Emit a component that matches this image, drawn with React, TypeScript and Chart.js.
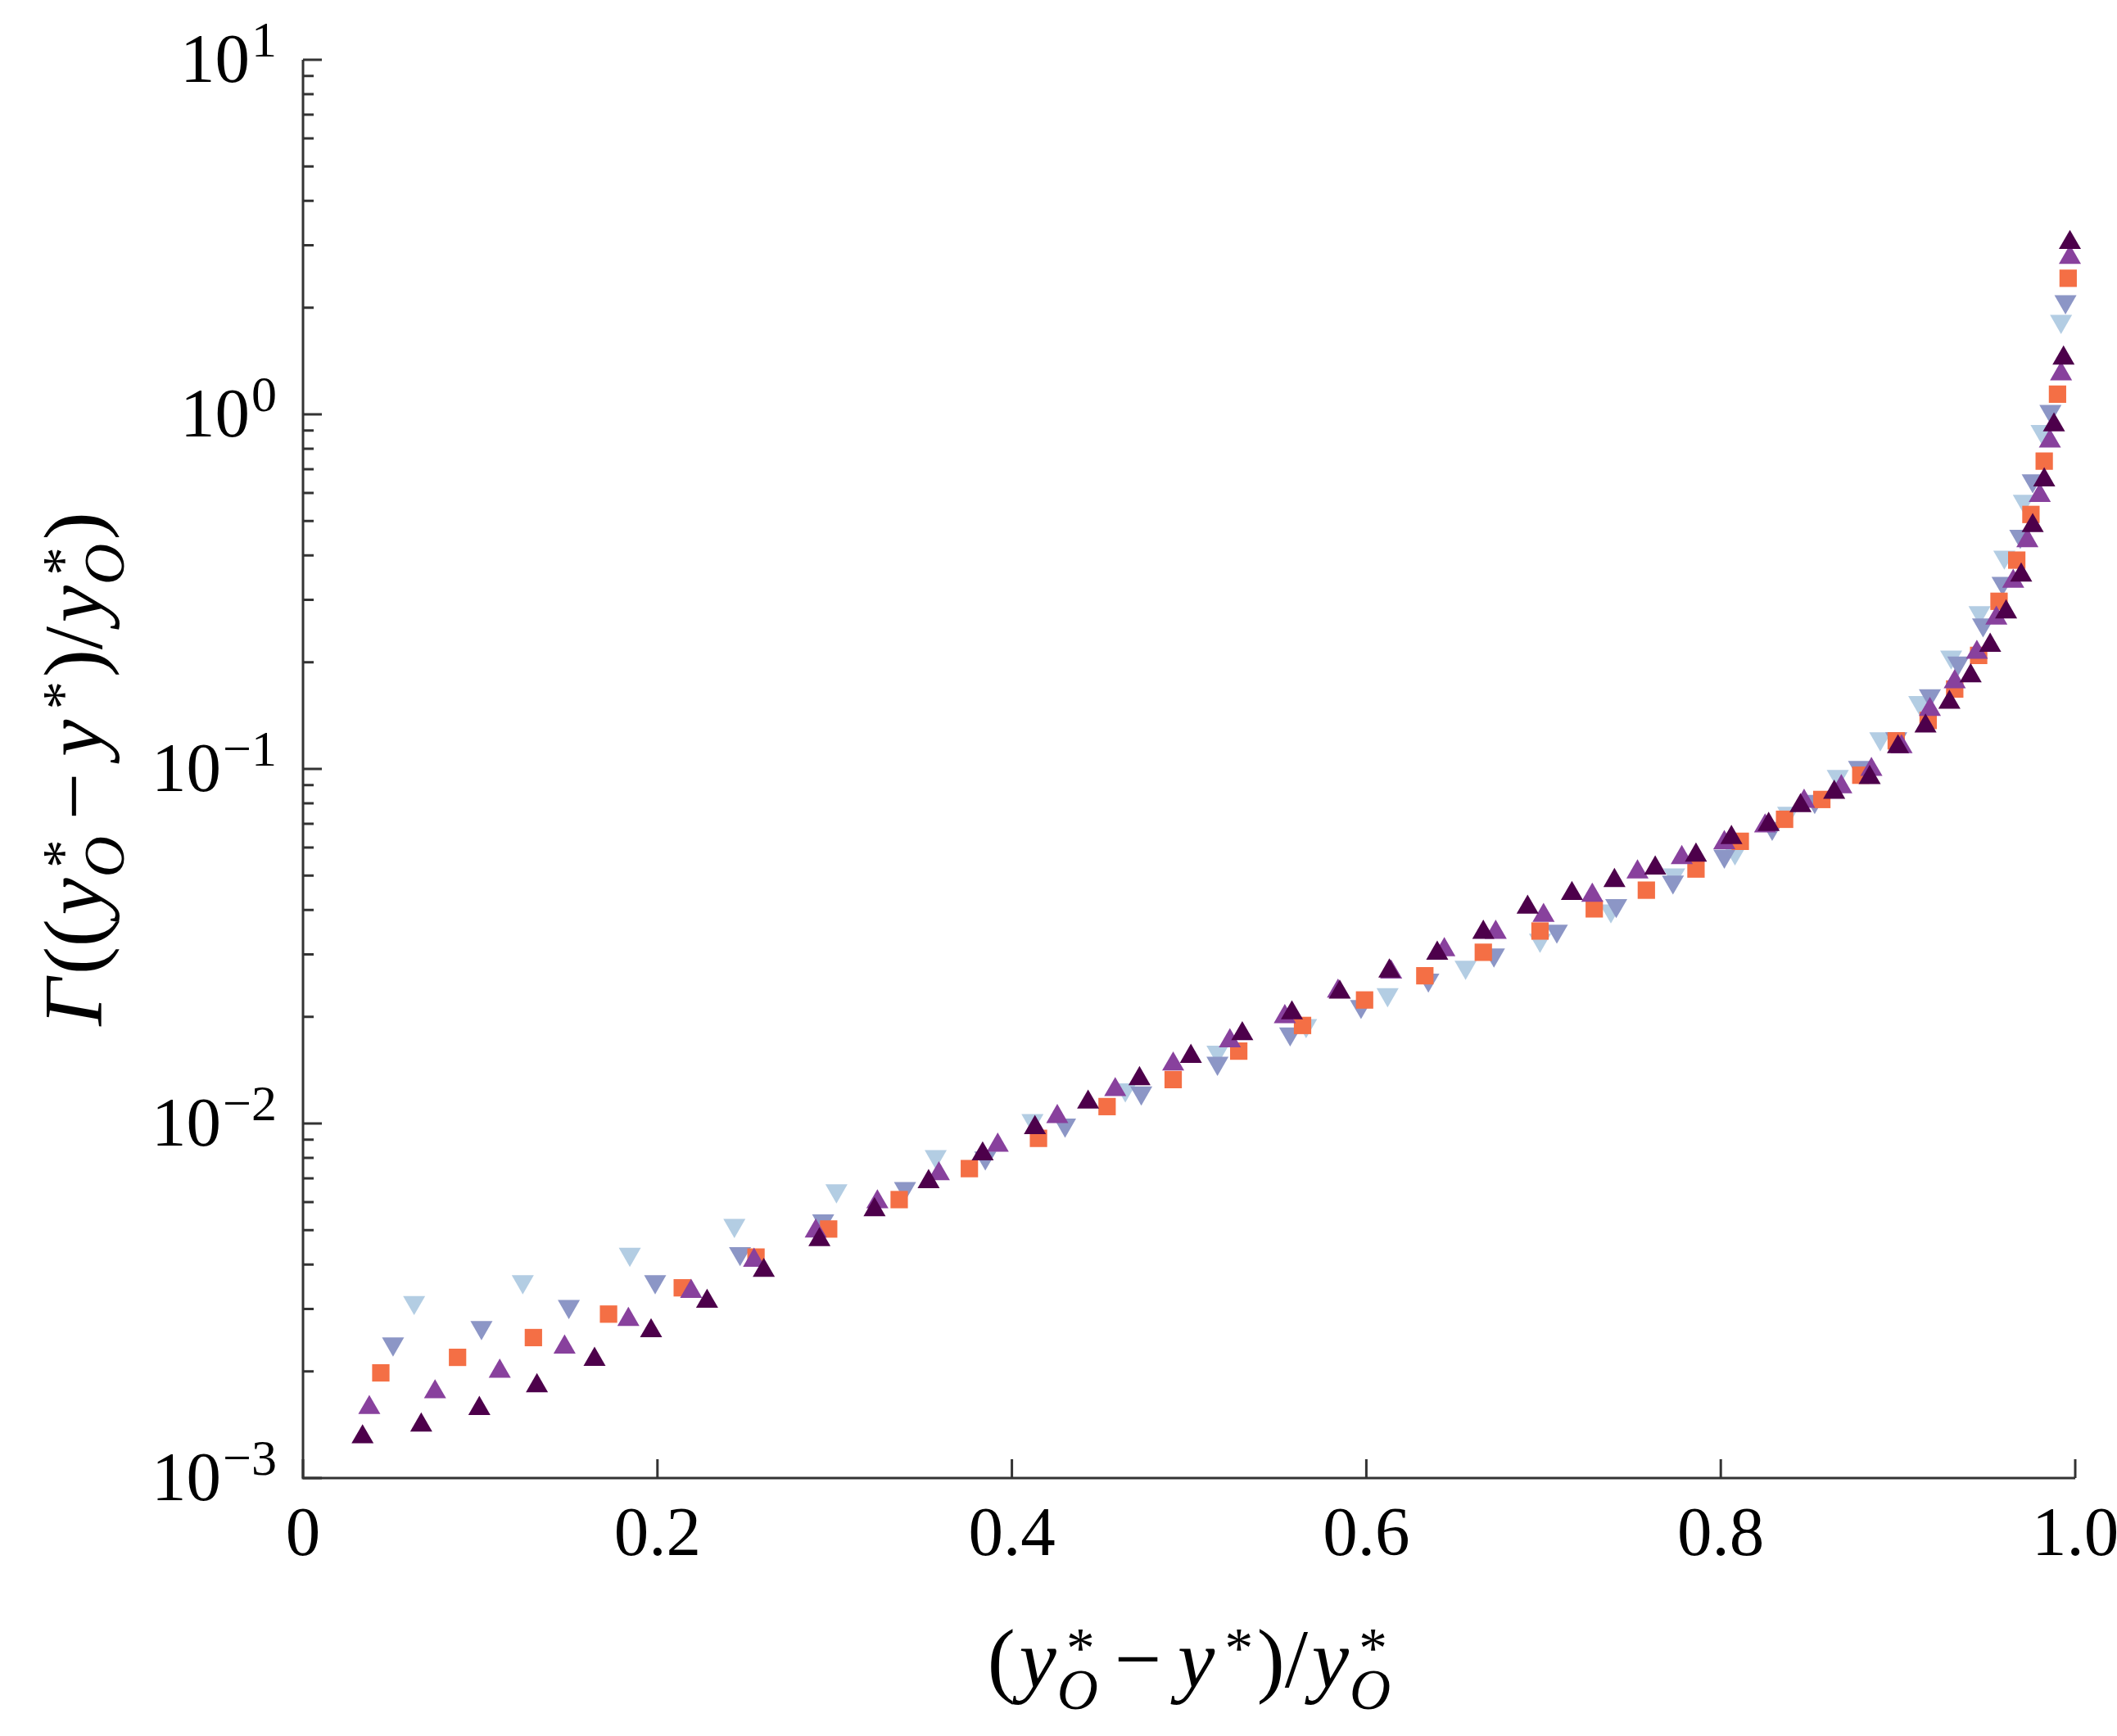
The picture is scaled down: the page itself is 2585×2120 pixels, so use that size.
import { useEffect, useRef } from "react";
import { Chart, registerables } from "chart.js";

Chart.register(...registerables);

// series: x = (y*_O - y*)/y*_O, y = Gamma
const xLightBlue = [0.0627, 0.124, 0.1844, 0.2434, 0.301, 0.357, 0.4116, 0.464, 0.516, 0.566, 0.612, 0.656, 0.698, 0.738, 0.7737, 0.808, 0.838, 0.866, 0.89, 0.912, 0.93, 0.946, 0.96, 0.971, 0.981, 0.992];
const yLightBlue = [0.00313, 0.00358, 0.00428, 0.00516, 0.00646, 0.00807, 0.0102, 0.01245, 0.0159, 0.0189, 0.0231, 0.0276, 0.0329, 0.0398, 0.0503, 0.058, 0.075, 0.0953, 0.1217, 0.154, 0.207, 0.276, 0.396, 0.569, 0.895, 1.83];

const xMidBlue = [0.0508, 0.1007, 0.15, 0.1987, 0.2466, 0.2935, 0.3397, 0.385, 0.43, 0.473, 0.516, 0.557, 0.597, 0.635, 0.672, 0.7075, 0.741, 0.773, 0.802, 0.829, 0.853, 0.878, 0.899, 0.918, 0.934, 0.948, 0.959, 0.969, 0.976, 0.986, 0.9945];
const yMidBlue = [0.00239, 0.00266, 0.00305, 0.00358, 0.0043, 0.00532, 0.00656, 0.008, 0.0099, 0.0122, 0.0148, 0.0179, 0.0214, 0.0254, 0.0299, 0.0349, 0.0412, 0.048, 0.0568, 0.068, 0.081, 0.101, 0.1217, 0.161, 0.199, 0.255, 0.334, 0.453, 0.65, 1.02, 2.08];

const xOrange = [0.0439, 0.0872, 0.13, 0.1724, 0.214, 0.2556, 0.2966, 0.3364, 0.376, 0.415, 0.4537, 0.491, 0.528, 0.564, 0.599, 0.633, 0.666, 0.698, 0.7286, 0.758, 0.786, 0.811, 0.836, 0.857, 0.879, 0.899, 0.917, 0.932, 0.9455, 0.957, 0.967, 0.975, 0.9825, 0.99, 0.996];
const yOrange = [0.00198, 0.00219, 0.00249, 0.0029, 0.00344, 0.0042, 0.00504, 0.0061, 0.00746, 0.00908, 0.01116, 0.0133, 0.016, 0.0189, 0.0223, 0.0261, 0.0304, 0.0349, 0.0403, 0.0455, 0.0522, 0.0625, 0.0721, 0.082, 0.096, 0.12, 0.137, 0.168, 0.209, 0.297, 0.388, 0.522, 0.738, 1.14, 2.42];

const xPurple = [0.0374, 0.0745, 0.111, 0.1476, 0.1836, 0.219, 0.2545, 0.2893, 0.3241, 0.3588, 0.392, 0.4256, 0.4583, 0.491, 0.523, 0.554, 0.584, 0.614, 0.644, 0.673, 0.7, 0.7275, 0.753, 0.778, 0.802, 0.825, 0.847, 0.868, 0.885, 0.902, 0.918, 0.932, 0.9445, 0.9555, 0.965, 0.973, 0.98, 0.9857, 0.992, 0.997];
const yPurple = [0.00158, 0.00175, 0.002, 0.00234, 0.0028, 0.00336, 0.00411, 0.00497, 0.00601, 0.00721, 0.00868, 0.01045, 0.01245, 0.0147, 0.0171, 0.02, 0.0236, 0.0267, 0.0309, 0.0346, 0.0386, 0.044, 0.0512, 0.0562, 0.0619, 0.069, 0.081, 0.089, 0.0996, 0.1154, 0.147, 0.176, 0.213, 0.266, 0.338, 0.44, 0.59, 0.84, 1.3, 2.77];

const xDark = [0.0336, 0.0667, 0.0995, 0.132, 0.1645, 0.1964, 0.228, 0.26, 0.2914, 0.3225, 0.353, 0.3835, 0.413, 0.443, 0.472, 0.501, 0.53, 0.558, 0.585, 0.613, 0.64, 0.666, 0.691, 0.716, 0.74, 0.763, 0.786, 0.806, 0.827, 0.845, 0.864, 0.884, 0.9, 0.9155, 0.929, 0.941, 0.952, 0.961, 0.9695, 0.976, 0.9825, 0.988, 0.9934, 0.997];
const yDark = [0.001306, 0.00141, 0.00157, 0.00182, 0.00216, 0.0026, 0.00315, 0.00385, 0.0047, 0.00571, 0.00685, 0.0082, 0.00973, 0.01148, 0.01337, 0.01545, 0.0179, 0.0205, 0.02344, 0.0269, 0.0302, 0.0346, 0.0407, 0.0445, 0.0484, 0.0525, 0.0571, 0.064, 0.0697, 0.0787, 0.0859, 0.0945, 0.1154, 0.132, 0.154, 0.183, 0.223, 0.277, 0.352, 0.485, 0.653, 0.933, 1.44, 3.05];

const xTicks = [0, 0.2, 0.4, 0.6, 0.8, 1.0];
const xTickLabels = ["0", "0.2", "0.4", "0.6", "0.8", "1.0"];
const yDecades = [-3, -2, -1, 0, 1];
const yExponents = ["\u22123", "\u22122", "\u22121", "0", "1"];

const SERIF = '"Liberation Serif", "Times New Roman", serif';
const AXIS_COLOR = "#333333";

type Piece = { t: string; it?: boolean; sup?: string; sub?: string; pad?: number };

// y*_O helper
const yStarO: Piece = { t: "y", it: true, sup: "*", sub: "O" };
const xTitle: Piece[] = [
  { t: "(" },
  yStarO,
  { t: "\u2212", pad: 0.15 },
  { t: "y", it: true, sup: "*" },
  { t: ")/" },
  yStarO,
];
const yTitle: Piece[] = [
  { t: "\u0393", it: true },
  { t: "((" },
  yStarO,
  { t: "\u2212", pad: 0.15 },
  { t: "y", it: true, sup: "*" },
  { t: ")/" },
  yStarO,
  { t: ")" },
];

const font = (size: number, italic = false) => `${italic ? "italic " : ""}${size}px ${SERIF}`;

function drawMath(ctx: CanvasRenderingContext2D, pieces: Piece[], size: number, cx: number, baseline: number) {
  const script = size * 0.68;
  const gap = 0.045 * size;
  const items: { t: string; f: string; x: number; y: number }[] = [];
  let x = 0;
  pieces.forEach((p, i) => {
    if (i > 0) x += gap;
    x += (p.pad ?? 0) * size;
    ctx.font = font(size, !!p.it);
    const w = ctx.measureText(p.t).width;
    items.push({ t: p.t, f: ctx.font, x, y: 0 });
    let end = x + w;
    if (p.sup) {
      ctx.font = font(script);
      const sx = x + w + 0.12 * size;
      items.push({ t: p.sup, f: ctx.font, x: sx, y: -0.24 * size });
      end = Math.max(end, sx + ctx.measureText(p.sup).width);
    }
    if (p.sub) {
      ctx.font = font(script, true);
      const bx = x + w + 0.01 * size;
      items.push({ t: p.sub, f: ctx.font, x: bx, y: 0.26 * size });
      end = Math.max(end, bx + ctx.measureText(p.sub).width);
    }
    x = end + (p.pad ?? 0) * size;
  });
  const x0 = cx - x / 2;
  ctx.textAlign = "left";
  ctx.textBaseline = "alphabetic";
  for (const it of items) {
    ctx.font = it.f;
    ctx.fillText(it.t, x0 + it.x, baseline + it.y);
  }
}

const axesPlugin = {
  id: "paperAxes",
  afterDatasetsDraw(chart: any) {
    const { ctx, chartArea, scales } = chart;
    const { left, right, top, bottom } = chartArea;
    const xs = scales.x;
    const ys = scales.y;
    ctx.save();
    ctx.strokeStyle = AXIS_COLOR;
    ctx.lineWidth = 3;
    ctx.beginPath();
    ctx.moveTo(left, top);
    ctx.lineTo(left, bottom);
    ctx.lineTo(right, bottom);
    ctx.stroke();

    // inward ticks
    ctx.beginPath();
    xTicks.forEach((v) => {
      const px = xs.getPixelForValue(v);
      ctx.moveTo(px, bottom);
      ctx.lineTo(px, bottom - 23);
    });
    yDecades.forEach((e) => {
      const py = ys.getPixelForValue(Math.pow(10, e));
      ctx.moveTo(left, py);
      ctx.lineTo(left + 23, py);
      if (e < 1) {
        for (let k = 2; k <= 9; k++) {
          const pm = ys.getPixelForValue(k * Math.pow(10, e));
          ctx.moveTo(left, pm);
          ctx.lineTo(left + 13, pm);
        }
      }
    });
    ctx.stroke();

    ctx.fillStyle = "#000";
    ctx.textBaseline = "alphabetic";
    ctx.font = font(85);
    ctx.textAlign = "center";
    xTicks.forEach((v, i) => {
      ctx.fillText(xTickLabels[i], xs.getPixelForValue(v), bottom + 94);
    });

    yDecades.forEach((e, i) => {
      const py = ys.getPixelForValue(Math.pow(10, e));
      const rightEdge = left - 32;
      ctx.font = font(62);
      ctx.textAlign = "right";
      const ew = ctx.measureText(yExponents[i]).width;
      ctx.fillText(yExponents[i], rightEdge, py - 4);
      ctx.font = font(85);
      ctx.fillText("10", rightEdge - ew - 2, py + 27);
    });

    // axis titles
    drawMath(ctx, xTitle, 102, (left + right) / 2, 2060);
    ctx.translate(124, (top + bottom) / 2);
    ctx.rotate(-Math.PI / 2);
    drawMath(ctx, yTitle, 102, 0, 0);
    ctx.restore();
  },
};

const toPoints = (xs: number[], ys: number[]) => xs.map((x, i) => ({ x, y: ys[i] }));

const App = () => {
  const chartRef = useRef<HTMLCanvasElement>(null);

  useEffect(() => {
    const ctx = chartRef.current!.getContext("2d")!;
    const tri = 15.6;
    const chart = new Chart(ctx, {
      type: "scatter",
      data: {
        // first dataset is painted last (on top)
        datasets: [
          { data: toPoints(xDark, yDark), pointStyle: "triangle", pointRadius: tri, backgroundColor: "#4d004b", borderWidth: 0 },
          { data: toPoints(xPurple, yPurple), pointStyle: "triangle", pointRadius: tri, backgroundColor: "#88419d", borderWidth: 0 },
          { data: toPoints(xOrange, yOrange), pointStyle: "rect", pointRadius: 15, backgroundColor: "#f46f45", borderWidth: 0 },
          { data: toPoints(xMidBlue, yMidBlue), pointStyle: "triangle", rotation: 180, pointRadius: tri, backgroundColor: "#8c96c6", borderWidth: 0 },
          { data: toPoints(xLightBlue, yLightBlue), pointStyle: "triangle", rotation: 180, pointRadius: tri, backgroundColor: "#b3cde3", borderWidth: 0 },
        ].map((d) => ({ ...d, clip: false as any, pointHoverRadius: d.pointRadius })),
      },
      options: {
        animation: false,
        responsive: false,
        devicePixelRatio: 1,
        events: [],
        layout: { padding: { left: 370, right: 51, top: 73, bottom: 315 } },
        plugins: {
          legend: { display: false },
          tooltip: { enabled: false },
        },
        scales: {
          x: { type: "linear", min: 0, max: 1, display: false },
          y: { type: "logarithmic", min: 0.001, max: 10, display: false },
        },
      },
      plugins: [axesPlugin],
    });

    return () => {
      chart.destroy();
    };
  }, []);

  return (
    <div style={{ position: "fixed", left: 0, top: 0, width: 2585, height: 2120, background: "#fff" }}>
      <canvas ref={chartRef} width={2585} height={2120} style={{ display: "block" }}></canvas>
    </div>
  );
};

export default App;
